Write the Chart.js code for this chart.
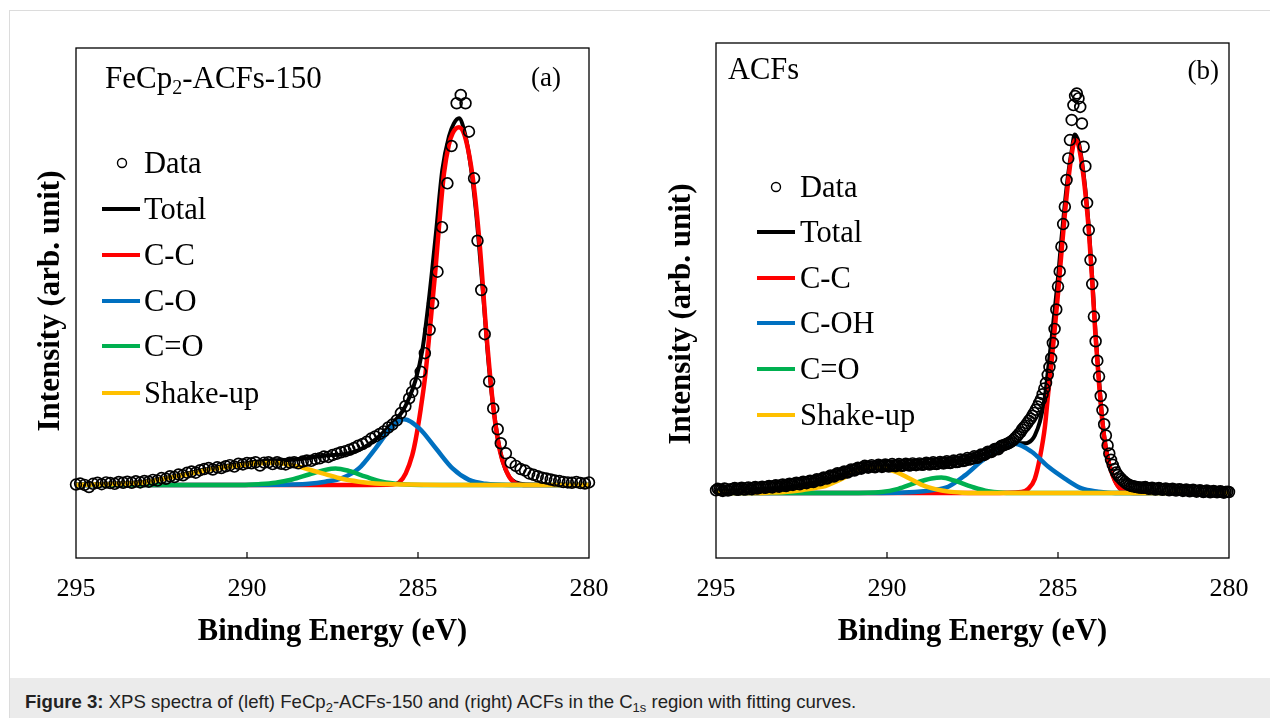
<!DOCTYPE html>
<html><head><meta charset="utf-8">
<script src="https://cdn.jsdelivr.net/npm/chart.js@4.4.1/dist/chart.umd.min.js"></script>
<style>
html,body{margin:0;padding:0;background:#fff;width:1270px;height:718px;overflow:hidden;position:relative;}
#frame{position:absolute;left:9px;top:10px;width:1280px;height:720px;border-top:1px solid #dcdcdc;border-left:1px solid #dcdcdc;}
#cap{position:absolute;left:10px;top:678px;width:1260px;height:40px;background:#ebebeb;}
#capText{position:absolute;left:25px;top:691px;font-family:'Liberation Sans',Arial,sans-serif;font-size:18.6px;color:#222;white-space:nowrap;}
#capText sub{font-size:13px;vertical-align:-4px;}
.cv{position:absolute;top:0;}
</style></head>
<body>
<div id="frame"></div>
<div id="cap"></div>
<div id="capText"><b>Figure 3:</b> XPS spectra of (left) FeCp<sub>2</sub>-ACFs-150 and (right) ACFs in the C<sub>1s</sub> region with fitting curves.</div>
<canvas id="ca" class="cv" width="635" height="670" style="left:0"></canvas>
<canvas id="cb" class="cv" width="635" height="670" style="left:635px"></canvas>
<script>
// ---------- shared axis ----------
const xTickValues = [295, 290, 285, 280];
const xAxisTitle = 'Binding Energy (eV)';
const yAxisTitle = 'Intensity (arb. unit)';

// ---------- (a) FeCp2-ACFs-150 ----------
const aLabels = ['Data', 'Total', 'C-C', 'C-O', 'C=O', 'Shake-up'];
const aDataE = [295.00,294.88,294.75,294.62,294.50,294.37,294.25,294.12,294.00,293.87,293.75,293.62,293.50,293.37,293.25,293.12,293.00,292.87,292.75,292.62,292.50,292.37,292.25,292.12,292.00,291.87,291.75,291.62,291.50,291.37,291.25,291.12,291.00,290.87,290.75,290.62,290.50,290.37,290.25,290.12,290.00,289.87,289.75,289.62,289.50,289.37,289.25,289.12,289.00,288.87,288.75,288.62,288.50,288.37,288.25,288.12,288.00,287.87,287.75,287.62,287.50,287.37,287.25,287.12,287.00,286.87,286.75,286.62,286.50,286.37,286.25,286.12,286.00,285.87,285.75,285.62,285.50,285.37,285.26,285.17,285.07,284.92,284.80,284.66,284.56,284.43,284.30,284.14,284.02,283.87,283.75,283.61,283.51,283.36,283.26,283.15,283.05,282.92,282.80,282.67,282.58,282.43,282.29,282.14,282.00,281.87,281.75,281.62,281.50,281.37,281.25,281.12,281.00,280.87,280.75,280.62,280.50,280.37,280.25,280.12,280.00];
const aDataI = [0.004,0.007,0.003,-0.003,0.006,0.009,0.005,0.010,0.008,0.006,0.011,0.009,0.012,0.009,0.013,0.010,0.014,0.012,0.017,0.015,0.022,0.020,0.027,0.025,0.032,0.030,0.037,0.040,0.037,0.044,0.047,0.050,0.046,0.052,0.050,0.055,0.058,0.054,0.062,0.060,0.064,0.063,0.066,0.057,0.065,0.066,0.061,0.066,0.062,0.060,0.065,0.066,0.063,0.068,0.071,0.070,0.075,0.077,0.082,0.081,0.086,0.090,0.094,0.097,0.101,0.106,0.112,0.117,0.123,0.132,0.138,0.145,0.152,0.163,0.171,0.183,0.203,0.222,0.244,0.262,0.286,0.318,0.370,0.435,0.509,0.597,0.721,0.843,0.947,1.066,1.089,1.066,0.987,0.857,0.683,0.546,0.423,0.291,0.216,0.158,0.119,0.091,0.065,0.056,0.047,0.043,0.035,0.031,0.027,0.023,0.021,0.018,0.015,0.014,0.011,0.010,0.009,0.011,0.008,0.007,0.010];
const aTotalE = [295.03,294.05,293.08,292.59,292.10,291.61,291.12,290.64,290.15,289.66,289.17,288.68,288.19,287.71,287.22,286.73,286.24,285.75,285.46,285.26,285.07,284.87,284.68,284.48,284.29,284.09,283.95,283.80,283.65,283.48,283.31,283.11,282.92,282.72,282.53,282.33,282.14,281.85,281.00,280.00];
const aTotalI = [0.004,0.006,0.011,0.019,0.028,0.038,0.048,0.056,0.062,0.068,0.072,0.073,0.078,0.085,0.088,0.100,0.130,0.175,0.207,0.245,0.295,0.380,0.520,0.700,0.880,0.975,1.010,1.024,0.990,0.905,0.770,0.550,0.325,0.165,0.070,0.025,0.010,0.004,0.003,0.003];
const aCCE = [295.03,290.00,286.50,285.75,285.55,285.36,285.17,285.07,284.92,284.78,284.64,284.50,284.37,284.24,284.10,283.99,283.80,283.60,283.39,283.19,283.00,282.80,282.61,282.41,282.22,281.92,281.00,280.00];
const aCCI = [0.003,0.003,0.003,0.004,0.010,0.035,0.085,0.128,0.215,0.314,0.450,0.592,0.740,0.871,0.950,0.982,0.999,0.964,0.852,0.666,0.425,0.221,0.100,0.040,0.012,0.003,0.003,0.003];
const aCOE = [295.03,290.00,288.68,288.19,287.71,287.22,286.73,286.24,285.85,285.41,284.97,284.48,283.99,283.51,283.02,282.33,280.00];
const aCOI = [0.003,0.003,0.004,0.006,0.012,0.022,0.049,0.105,0.154,0.186,0.161,0.105,0.049,0.017,0.006,0.003,0.003];
const aCdOE = [295.03,291.00,290.15,289.66,289.17,288.68,288.19,287.71,287.41,287.02,286.53,286.05,285.46,284.90,282.00,280.00];
const aCdOI = [0.003,0.003,0.003,0.005,0.009,0.018,0.032,0.045,0.049,0.042,0.026,0.012,0.005,0.003,0.003,0.003];
const aShakeE = [295.03,294.05,293.08,292.59,292.10,291.61,291.12,290.64,290.15,289.66,289.17,288.68,288.19,287.71,287.22,286.73,286.24,285.26,284.29,282.00,280.00];
const aShakeI = [0.003,0.005,0.009,0.017,0.026,0.035,0.045,0.052,0.058,0.063,0.064,0.058,0.046,0.033,0.020,0.012,0.007,0.004,0.003,0.003,0.003];

// ---------- (b) ACFs ----------
const bLabels = ['Data', 'Total', 'C-C', 'C-OH', 'C=O', 'Shake-up'];
const bDataE = [295.0,294.9,294.8,294.7,294.6,294.5,294.4,294.3,294.2,294.1,294.0,293.9,293.8,293.7,293.6,293.5,293.4,293.3,293.2,293.1,293.0,292.9,292.8,292.7,292.6,292.5,292.4,292.3,292.2,292.1,292.0,291.9,291.8,291.7,291.6,291.5,291.4,291.3,291.2,291.1,291.0,290.9,290.8,290.7,290.6,290.5,290.4,290.3,290.2,290.1,290.0,289.9,289.8,289.7,289.6,289.5,289.4,289.3,289.2,289.1,289.0,288.9,288.8,288.7,288.6,288.5,288.4,288.3,288.2,288.1,288.0,287.9,287.8,287.7,287.6,287.5,287.4,287.3,287.2,287.1,287.0,286.9,286.8,286.7,286.6,
286.55,286.50,286.45,286.40,286.35,286.30,286.25,286.20,286.15,286.10,286.05,286.00,285.95,285.90,285.85,285.80,285.75,285.70,285.65,285.60,285.55,285.50,285.45,285.40,285.35,285.30,285.25,285.20,285.15,285.10,285.05,285.00,284.95,284.90,284.85,284.80,284.75,284.70,284.65,284.60,284.55,284.50,284.45,284.40,284.35,284.30,284.25,284.20,284.15,284.10,284.05,284.00,283.95,283.90,283.85,283.80,283.75,283.70,283.65,283.60,283.55,283.50,283.45,283.40,283.35,283.30,283.25,283.20,283.15,283.10,283.05,283.00,282.95,282.90,282.85,282.80,282.75,282.70,282.65,282.60,282.55,282.50,
282.4,282.3,282.2,282.1,282.0,281.9,281.8,281.7,281.6,281.5,281.4,281.3,281.2,281.1,281.0,280.9,280.8,280.7,280.6,280.5,280.4,280.3,280.2,280.1,280.0];
const bDataI = [0.008,0.010,0.006,0.011,0.009,0.012,0.010,0.013,0.011,0.014,0.012,0.015,0.013,0.016,0.016,0.018,0.017,0.020,0.019,0.022,0.021,0.024,0.024,0.027,0.026,0.029,0.029,0.032,0.033,0.035,0.037,0.040,0.042,0.046,0.048,0.052,0.054,0.057,0.059,0.062,0.065,0.068,0.070,0.073,0.074,0.075,0.075,0.076,0.077,0.076,0.078,0.077,0.078,0.079,0.078,0.079,0.080,0.079,0.080,0.081,0.081,0.082,0.082,0.083,0.083,0.084,0.085,0.085,0.086,0.087,0.088,0.089,0.091,0.093,0.095,0.098,0.101,0.104,0.108,0.112,0.116,0.120,0.125,0.130,0.135,
0.137,0.139,0.141,0.144,0.147,0.151,0.156,0.161,0.167,0.172,0.180,0.186,0.191,0.198,0.205,0.211,0.219,0.227,0.236,0.245,0.255,0.265,0.280,0.296,0.312,0.335,0.357,0.382,0.425,0.465,0.520,0.585,0.628,0.698,0.762,0.811,0.887,0.948,1.000,1.057,1.099,1.125,1.132,1.118,1.094,1.047,0.981,0.926,0.822,0.745,0.660,0.592,0.500,0.430,0.375,0.330,0.275,0.235,0.195,0.163,0.135,0.112,0.094,0.080,0.068,0.058,0.051,0.045,0.040,0.035,0.031,0.027,0.024,0.022,0.020,0.019,0.018,0.017,0.016,0.016,0.015,0.015,
0.014,0.013,0.013,0.012,0.012,0.011,0.011,0.010,0.010,0.009,0.009,0.008,0.008,0.007,0.007,0.006,0.006,0.005,0.005,0.004,0.004,0.004,0.003,0.003,0.003];
// interleaved scans in the flat regions (dense band of circles)
const bDataHalfE = [294.95,294.85,294.75,294.65,294.55,294.45,294.35,294.25,294.15,294.05,293.95,293.85,293.75,293.65,293.55,293.45,293.35,293.25,293.15,293.05,292.95,292.85,292.75,292.65,292.55,292.45,292.35,292.25,292.15,292.05,291.95,291.85,291.75,291.65,291.55,291.45,291.35,291.25,291.15,291.05,290.95,290.85,290.75,290.65,290.55,290.45,290.35,290.25,290.15,290.05,289.95,289.85,289.75,289.65,289.55,289.45,289.35,289.25,289.15,289.05,288.95,288.85,288.75,288.65,288.55,288.45,288.35,288.25,288.15,288.05,287.95,287.85,287.75,287.65,287.55,287.45,287.35,287.25,287.15,287.05,286.95,286.85,286.75,286.65,
282.45,282.35,282.25,282.15,282.05,281.95,281.85,281.75,281.65,281.55,281.45,281.35,281.25,281.15,281.05,280.95,280.85,280.75,280.65,280.55,280.45,280.35,280.25,280.15,280.05];
const bDataHalfI = [0.012,0.008,0.013,0.007,0.011,0.014,0.009,0.015,0.010,0.016,0.011,0.017,0.014,0.018,0.015,0.020,0.016,0.022,0.018,0.024,0.020,0.026,0.023,0.029,0.025,0.032,0.028,0.035,0.031,0.039,0.036,0.044,0.041,0.050,0.047,0.056,0.053,0.061,0.058,0.067,0.064,0.072,0.069,0.077,0.072,0.079,0.073,0.080,0.074,0.081,0.075,0.082,0.076,0.082,0.077,0.083,0.078,0.084,0.079,0.084,0.080,0.086,0.081,0.087,0.082,0.088,0.084,0.090,0.085,0.092,0.088,0.095,0.091,0.099,0.096,0.104,0.100,0.109,0.108,0.117,0.116,0.125,0.124,0.134,
0.017,0.012,0.015,0.010,0.014,0.009,0.013,0.008,0.012,0.007,0.011,0.006,0.010,0.005,0.009,0.004,0.008,0.003,0.007,0.002,0.006,0.002,0.005,0.001,0.004];
const bTotalE = [295.04,294.5,294.0,293.5,293.0,292.5,292.0,291.5,291.14,290.65,290.16,289.67,289.19,288.70,288.21,287.72,287.24,286.75,286.46,286.20,285.97,285.87,285.77,285.68,285.53,285.38,285.29,285.19,285.09,284.99,284.90,284.80,284.70,284.60,284.51,284.40,284.30,284.20,284.10,284.00,283.90,283.80,283.70,283.60,283.50,283.40,283.30,283.20,283.10,282.90,282.50,280.00];
const bTotalI = [0.005,0.007,0.009,0.012,0.016,0.022,0.032,0.045,0.058,0.071,0.076,0.079,0.082,0.085,0.088,0.094,0.108,0.127,0.136,0.141,0.141,0.143,0.150,0.163,0.202,0.275,0.350,0.435,0.525,0.620,0.720,0.820,0.905,0.970,1.016,0.995,0.940,0.860,0.755,0.610,0.450,0.320,0.205,0.128,0.082,0.051,0.028,0.014,0.006,0.002,0,0];
const bCCE = [295.04,287.00,286.07,285.87,285.68,285.53,285.38,285.29,285.19,285.09,284.99,284.90,284.80,284.70,284.60,284.50,284.40,284.30,284.20,284.10,284.00,283.90,283.80,283.70,283.60,283.50,283.40,283.30,283.20,283.10,283.00,282.80,280.00];
const bCCI = [0,0,0.003,0.012,0.040,0.100,0.190,0.280,0.370,0.470,0.575,0.680,0.790,0.885,0.960,1.000,0.985,0.930,0.850,0.745,0.600,0.440,0.310,0.200,0.125,0.080,0.050,0.028,0.014,0.006,0.002,0,0];
const bCOHE = [295.04,290.16,289.19,288.70,288.21,287.72,287.24,286.75,286.26,285.77,285.29,284.80,284.31,283.82,283.33,280.00];
const bCOHI = [0,0,0.003,0.008,0.018,0.050,0.090,0.122,0.140,0.117,0.075,0.041,0.013,0.004,0,0];
const bCdOE = [295.04,291.14,290.16,289.67,289.19,288.70,288.41,288.02,287.53,287.04,286.26,280.00];
const bCdOI = [0,0,0.003,0.012,0.028,0.041,0.044,0.035,0.018,0.005,0,0];
const bShakeE = [295.04,294.0,293.5,293.0,292.5,292.0,291.8,291.5,291.2,290.9,290.6,290.4,290.2,290.0,289.8,289.6,289.4,289.2,289.0,288.7,288.4,288.2,287.8,287.5,284.0,280.0];
const bShakeI = [0,0,0.001,0.003,0.008,0.016,0.020,0.032,0.046,0.060,0.070,0.073,0.072,0.068,0.062,0.054,0.044,0.034,0.024,0.014,0.007,0.004,0.001,0,0,0];

// ---------- helpers ----------
const pts = (E, I) => E.map((e, i) => ({x: e, y: I[i]}));
const COLORS = {total: '#000000', cc: '#FF0000', co: '#0070C0', cdo: '#00B050', shake: '#FFC000'};
const SERIF = "'Liberation Serif','Times New Roman',serif";

function lineDS(label, E, I, color, width, order) {
  return {label, data: pts(E, I), showLine: true, borderColor: color, backgroundColor: color,
    borderWidth: width, pointRadius: 0, cubicInterpolationMode: 'monotone', order, fill: false};
}
function dataDS(label, points) {
  return {label, data: points, showLine: false, pointRadius: 5.4, pointBorderWidth: 1.7,
    pointBorderColor: '#000', pointBackgroundColor: 'rgba(0,0,0,0)', order: 0, clip: false};
}

const panelPlugin = {
  id: 'panel',
  afterDraw(chart, args, o) {
    const {ctx, chartArea: ca, scales} = chart;
    ctx.save();
    // frame
    ctx.strokeStyle = '#000'; ctx.lineWidth = 1.3;
    ctx.strokeRect(ca.left, ca.top, ca.right - ca.left, ca.bottom - ca.top);
    // inward tick marks
    const xs = scales.x;
    ctx.lineWidth = 1.2;
    xs.ticks.forEach(t => {
      const px = xs.getPixelForValue(t.value);
      if (px - ca.left > 3 && ca.right - px > 3) {
        ctx.beginPath(); ctx.moveTo(px, ca.bottom); ctx.lineTo(px, ca.bottom - 6); ctx.stroke();
      }
    });
    // y axis title
    ctx.save();
    ctx.translate(o.yTitleX, o.yTitleY); ctx.rotate(-Math.PI / 2);
    ctx.fillStyle = '#000'; ctx.textAlign = 'center'; ctx.textBaseline = 'middle';
    ctx.font = 'bold 31px ' + SERIF;
    ctx.fillText(yAxisTitle, 0, 0);
    ctx.restore();
    // title with subscripts
    ctx.fillStyle = '#000'; ctx.textBaseline = 'alphabetic'; ctx.textAlign = 'left';
    let x = o.titleX;
    o.title.forEach(seg => {
      ctx.font = seg.size + 'px ' + SERIF;
      ctx.fillText(seg.t, x, o.titleY + (seg.dy || 0));
      x += ctx.measureText(seg.t).width;
    });
    ctx.font = o.tagSize + 'px ' + SERIF; ctx.textAlign = 'right';
    ctx.fillText(o.tag, o.tagX, o.tagY);
    // legend
    ctx.textAlign = 'left';
    ctx.font = o.legSize + 'px ' + SERIF;
    chart.data.datasets.forEach((ds, i) => {
      const y = o.legY[i];
      if (ds.showLine) {
        ctx.strokeStyle = ds.borderColor; ctx.lineWidth = 4; ctx.lineCap = 'butt';
        ctx.beginPath(); ctx.moveTo(o.legX0, y); ctx.lineTo(o.legX1, y); ctx.stroke();
      } else {
        ctx.strokeStyle = '#000'; ctx.lineWidth = 1.4;
        ctx.beginPath(); ctx.arc(o.legCX, y, 4.5, 0, Math.PI * 2); ctx.stroke();
      }
      ctx.fillStyle = '#000';
      ctx.fillText(ds.label, o.legTX, y + 10);
    });
    ctx.restore();
  }
};

function makeChart(id, labels, sets, yMin, yMax, area, panel) {
  const datasets = [
    dataDS(labels[0], sets.dataPts),
    lineDS(labels[1], sets.totE, sets.totI, COLORS.total, 4, 5),
    lineDS(labels[2], sets.ccE, sets.ccI, COLORS.cc, 4.5, 4),
    lineDS(labels[3], sets.coE, sets.coI, COLORS.co, 4.5, 3),
    lineDS(labels[4], sets.cdoE, sets.cdoI, COLORS.cdo, 4.5, 2),
    lineDS(labels[5], sets.shE, sets.shI, COLORS.shake, 4.5, 1)
  ];
  return new Chart(document.getElementById(id), {
    type: 'scatter',
    data: {datasets},
    options: {
      responsive: false, animation: false, events: [],
      layout: {padding: {left: 0, top: area.top, right: area.right, bottom: 0}},
      plugins: {legend: {display: false}, tooltip: {enabled: false}, panel},
      scales: {
        x: {
          type: 'linear', reverse: true, min: 280, max: 295,
          afterBuildTicks: s => { s.ticks = xTickValues.map(v => ({value: v})); },
          afterFit: s => { s.height = area.xh; },
          grid: {display: false}, border: {display: false},
          ticks: {padding: 8, autoSkip: false, maxRotation: 0, color: '#000',
            font: {family: SERIF, size: 26}, callback: v => String(v)},
          title: {display: true, text: xAxisTitle, color: '#000',
            font: {family: SERIF, size: 30.5, weight: 'bold'}, padding: {top: 0, bottom: 20}}
        },
        y: {
          type: 'linear', min: yMin, max: yMax,
          afterFit: s => { s.width = area.yw; },
          grid: {display: false}, border: {display: false},
          ticks: {display: false},
          title: {display: false}
        }
      }
    },
    plugins: [panelPlugin]
  });
}

makeChart('ca', aLabels,
  {dataPts: pts(aDataE, aDataI), totE: aTotalE, totI: aTotalI, ccE: aCCE, ccI: aCCI,
   coE: aCOE, coI: aCOI, cdoE: aCdOE, cdoI: aCdOI, shE: aShakeE, shI: aShakeI},
  -0.2006, 1.220,
  {top: 48, right: 46, xh: 112, yw: 76},
  {title: [{t: 'FeCp', size: 31}, {t: '2', size: 20, dy: 6}, {t: '-ACFs-150', size: 31}],
   titleX: 105, titleY: 88, tag: '(a)', tagX: 561, tagY: 86, tagSize: 27,
   yTitleX: 51, yTitleY: 301,
   legSize: 30.5, legY: [163, 209, 255, 301, 346, 393], legX0: 102, legX1: 140, legCX: 122, legTX: 144});

makeChart('cb', bLabels,
  {dataPts: pts(bDataE, bDataI).concat(pts(bDataHalfE, bDataHalfI)), totE: bTotalE, totI: bTotalI, ccE: bCCE, ccI: bCCI,
   coE: bCOHE, coI: bCOHI, cdoE: bCdOE, cdoI: bCdOI, shE: bShakeE, shI: bShakeI},
  -0.184, 1.275,
  {top: 43, right: 41, xh: 112, yw: 81},
  {title: [{t: 'ACFs', size: 30.5}],
   titleX: 93, titleY: 79, tag: '(b)', tagX: 584, tagY: 79, tagSize: 27,
   yTitleX: 47, yTitleY: 314,
   legSize: 30.5, legY: [187, 232, 278, 323, 369, 415], legX0: 122, legX1: 160, legCX: 141, legTX: 165});
</script>
</body></html>
